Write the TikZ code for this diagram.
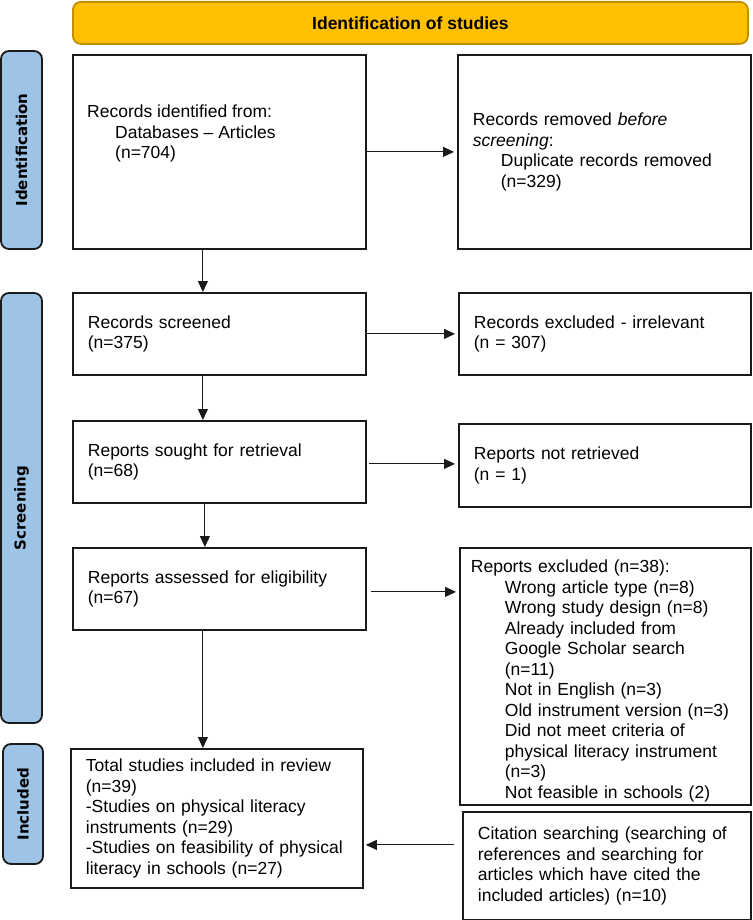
\documentclass[tikz,border=0pt]{standalone}
\usepackage{fontspec}
\setmainfont{Liberation Sans}
\newfontfamily\barfont{DejaVu Sans}
\usetikzlibrary{arrows.meta,calc}
\definecolor{hdfill}{HTML}{FFC000}
\definecolor{hdline}{HTML}{C09000}
\definecolor{barfill}{HTML}{9DC3E6}
\definecolor{edge}{HTML}{1A1A1A}
\newcommand\bxfont{\fontsize{17.5}{20.5}\selectfont}
\newcommand\ind{\hspace*{28pt}}
\newcommand\indb{\hspace*{34pt}}
\begin{document}
\begin{tikzpicture}[x=1pt,y=-1pt,
 box/.style={draw=edge, line width=1.8pt, fill=white, anchor=north west, inner xsep=15pt, inner ysep=0pt, align=left, font=\bxfont},
 bar/.style={draw=edge, line width=1.8pt, fill=barfill, rounded corners=8pt, rotate=90, font=\barfont\bfseries\fontsize{15}{18}\selectfont, inner sep=0pt},
 hdr/.style={draw=hdline, line width=1.8pt, fill=hdfill, rounded corners=8pt, font=\bfseries\bxfont, anchor=north west, inner sep=0pt},
 arr/.style={-{Triangle[length=11pt,width=10pt]}, line width=1pt, draw=edge},
 txt/.style={font=\bxfont, align=left, inner sep=0pt}]
\useasboundingbox (0,0) rectangle (752,920);

\node[hdr, minimum width=675, minimum height=42] (hd) at (72,1) {Identification of studies};

\node[bar, minimum width=198, minimum height=41] (bi) at (21.5,150) {Identification};
\node[bar, minimum width=430, minimum height=41] (bs) at (21.5,508) {Screening};
\node[bar, minimum width=120, minimum height=40] (bn) at (23,804) {Included};

\node[box, text width=263, minimum height=194] (b1) at (72,54) {};
\node[txt, anchor=north west] (t1) at (87,105) {Records identified from:\\\ind Databases -- Articles\\\ind (n=704)};
\node[box, text width=263, minimum height=194] (b2) at (457,54) {Records removed \textit{before}\\\textit{screening}:\\\ind Duplicate records removed\\\ind (n=329)};

\node[box, text width=263, minimum height=82] (b3) at (72,292) {Records screened\\(n=375)};
\node[box, text width=262, minimum height=82] (b4) at (458,292) {Records excluded - irrelevant\\(n = 307)};

\node[box, text width=263, minimum height=82] (b5) at (72,420) {Reports sought for retrieval\\(n=68)};
\node[box, text width=262, minimum height=83] (b6) at (458,423) {Reports not retrieved\\(n = 1)};

\node[box, text width=263, minimum height=82] (b7) at (72,547) {Reports assessed for eligibility\\(n=67)};
\node[box, inner xsep=11pt, text width=269, minimum height=257] (b8) at (459,547) {\rule{0pt}{22pt}Reports excluded (n=38):\\\indb Wrong article type (n=8)\\\indb Wrong study design (n=8)\\\indb Already included from\\\indb Google Scholar search\\\indb (n=11)\\\indb Not in English (n=3)\\\indb Old instrument version (n=3)\\\indb Did not meet criteria of\\\indb physical literacy instrument\\\indb (n=3)\\\indb Not feasible in schools (2)};

\node[box, text width=262, minimum height=139] (b9) at (70,748) {Total studies included in review\\(n=39)\\-Studies on physical literacy\\instruments (n=29)\\-Studies on feasibility of physical\\literacy in schools (n=27)};
\node[box, text width=258, minimum height=108] (b10) at (462,811) {Citation searching (searching of\\references and searching for\\articles which have cited the\\included articles) (n=10)};

\draw[arr, shorten >=3pt] (b1) -- (b2);
\draw[arr, shorten >=3pt] (b3) -- (b4);
\draw[arr, shorten >=3pt, shorten <=2pt] ([yshift=-2pt]b5.east) -- ([yshift=-2pt]b5.east -| b6.west);
\draw[arr, shorten >=3pt, shorten <=4pt] ([yshift=-3pt]b7.east) -- ([yshift=-3pt]b7.east -| b8.west);
\draw[arr, shorten >=2pt, shorten <=8pt] ([yshift=21pt]b10.west) -- ([yshift=21pt]b10.west -| b9.east);

\draw[arr] ([xshift=-16.5pt]b1.south) -- ([xshift=-16.5pt]b1.south |- b3.north);
\draw[arr] ([xshift=-16.5pt]b3.south) -- ([xshift=-16.5pt]b3.south |- b5.north);
\draw[arr] ([xshift=-14.5pt]b5.south) -- ([xshift=-14.5pt]b5.south |- b7.north);
\draw[arr] ([xshift=-16.5pt]b7.south) -- ([xshift=-16.5pt]b7.south |- b9.north);
\end{tikzpicture}
\end{document}
